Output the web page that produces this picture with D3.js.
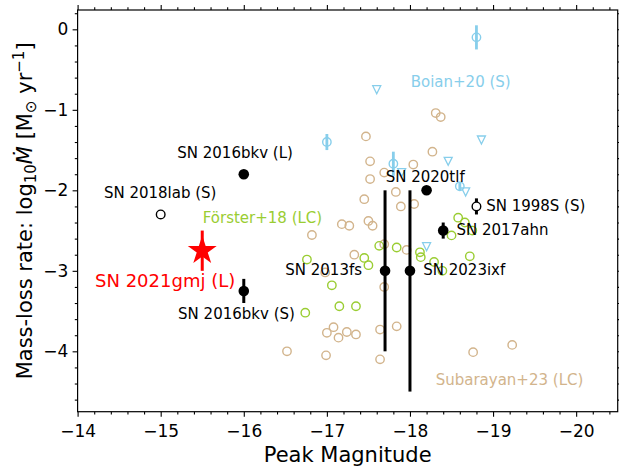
<!DOCTYPE html>
<html>
<head>
<meta charset="utf-8">
<script src="https://cdn.jsdelivr.net/npm/d3@7"></script>
<style>
  body { margin: 0; background: #fff; }
  svg { display: block; }
  text { font-family: "DejaVu Sans", sans-serif; }
</style>
</head>
<body>
<svg id="chart" width="619" height="470"></svg>
<script>
// ---- Subarayan+23 (light-curve modelling) ----
const subarayanMag  = [-18.31, -18.37, -17.47, -18.27, -17.52, -18.04, -17.69, -17.52, -17.83, -17.45,
                       -17.89, -18.05, -17.18, -17.27, -17.50, -17.55, -16.82, -17.33, -16.98, -17.69,
                       -17.69, -17.96, -17.00, -17.08, -17.14, -17.24, -17.35, -17.64, -17.84, -16.99,
                       -17.64, -16.52, -18.76, -19.23];
const subarayanMdot = [-1.04, -1.09, -1.33, -1.52, -1.64, -1.68, -1.78, -1.86, -2.02, -2.11,
                       -2.20, -2.17, -2.42, -2.44, -2.38, -2.44, -2.555, -2.80, -3.02, -2.67,
                       -3.20, -2.74, -3.77, -3.70, -3.83, -3.76, -3.79, -3.73, -3.69, -4.05,
                       -4.10, -4.00, -4.01, -3.92];

// ---- Förster+18 (light-curve modelling) ----
const foersterMag  = [-16.76, -16.74, -17.06, -17.15, -17.35, -17.45, -17.50, -17.63, -17.84, -18.12,
                      -18.13, -18.29, -18.39, -18.50, -18.58, -18.66, -18.75, -18.72];
const foersterMdot = [-2.86, -3.52, -3.18, -3.44, -3.44, -2.84, -2.93, -2.69, -2.71, -2.77,
                      -2.83, -2.89, -3.00, -2.56, -2.34, -2.40, -2.50, -2.82];

// ---- Boian+20 (spectra): measurements and upper limits ----
const boianMag  = [-18.8, -17.0, -17.8, -18.6];
const boianMdot = [-0.10, -1.40, -1.67, -1.95];
const boianErr  = [0.15, 0.10, 0.15, 0.05];
const boianLimMag  = [-17.6, -18.86, -18.46, -17.9, -18.67, -18.2];
const boianLimMdot = [-0.75, -1.375, -1.64, -1.78, -2.02, -2.70];

// ---- Individual supernovae ----
const snNames   = ["SN 2016bkv (L)", "SN 2018lab (S)", "SN 2016bkv (S)", "SN 2013fs",
                   "SN 2023ixf", "SN 2020tlf", "SN 1998S (S)", "SN 2017ahn"];
const snMag     = [-16.0, -15.0, -16.0, -17.7, -18.0, -18.2, -18.8, -18.4];
const snMdot    = [-1.80, -2.30, -3.25, -3.00, -3.00, -2.00, -2.20, -2.50];
const snErrLow  = [0, 0, 0.15, 1.0, 1.5, 0, 0.1, 0.1];
const snErrHigh = [0, 0, 0.15, 1.0, 1.0, 0, 0.1, 0.1];
const snFilled  = [true, false, true, true, true, true, false, true];

// ---- SN 2021gmj ----
const gmjName = "SN 2021gmj (L)";
const gmjMag = -15.5, gmjMdot = -2.75, gmjErr = 0.25;

// ---- axis ticks ----
const xMajor = [-14, -15, -16, -17, -18, -19, -20];
const yMajor = [0, -1, -2, -3, -4];

// ---------------------------------------------------------------
const svg = d3.select("#chart");
const pLeft = 77.6, pRight = 617.7, pTop = 10, pBottom = 411.7;

const x = d3.scaleLinear().domain([-14, -20.5]).range([pLeft, pRight]);
const y = d3.scaleLinear().domain([-4.75, 0.24]).range([pBottom, pTop]);

const xMinor = d3.range(-14, -20.5 - 1e-9, -0.2).map(v => +v.toFixed(1)).filter(v => !xMajor.includes(v));
const yMinor = d3.range(0.2, -4.75, -0.2).map(v => +v.toFixed(1)).filter(v => !yMajor.includes(v));

const fmt = d3.format("d");

// axes: major and minor ticks on all four sides, pointing outward
function drawAxis(axisFn, scale, major, minor, transform, labels) {
  const gMinor = svg.append("g").attr("transform", transform)
    .call(axisFn(scale).tickValues(minor).tickSize(2.8).tickFormat(""));
  const gMajor = svg.append("g").attr("transform", transform)
    .call(axisFn(scale).tickValues(major).tickSize(5)
      .tickPadding(axisFn === d3.axisBottom ? 8 : 4.4)
      .tickFormat(labels ? fmt : ""));
  [gMinor, gMajor].forEach(g => {
    g.select(".domain").remove();
    g.selectAll(".tick line").attr("stroke", "#000").attr("stroke-width", 1.1);
    g.selectAll(".tick text").attr("fill", "#000").style("font-size", "17px")
      .style("font-family", "'DejaVu Sans', sans-serif");
  });
}
drawAxis(d3.axisBottom, x, xMajor, xMinor, `translate(0,${pBottom})`, true);
drawAxis(d3.axisTop, x, xMajor, xMinor, `translate(0,${pTop})`, false);
drawAxis(d3.axisLeft, y, yMajor, yMinor, `translate(${pLeft},0)`, true);
drawAxis(d3.axisRight, y, yMajor, yMinor, `translate(${pRight},0)`, false);

const plot = svg.append("g");

// Subarayan+23
plot.append("g").selectAll("circle")
  .data(subarayanMag.map((m, i) => [m, subarayanMdot[i]]))
  .join("circle")
  .attr("cx", d => x(d[0])).attr("cy", d => y(d[1])).attr("r", 4.2)
  .attr("fill", "none").attr("stroke", "#D2B48C").attr("stroke-width", 1.4);

// Förster+18
plot.append("g").selectAll("circle")
  .data(foersterMag.map((m, i) => [m, foersterMdot[i]]))
  .join("circle")
  .attr("cx", d => x(d[0])).attr("cy", d => y(d[1])).attr("r", 4.2)
  .attr("fill", "none").attr("stroke", "#9ACD32").attr("stroke-width", 1.4);

// Boian+20 measurements with error bars
const boianData = boianMag.map((m, i) => ({ m, v: boianMdot[i], e: boianErr[i] }));
plot.append("g").selectAll("line").data(boianData).join("line")
  .attr("x1", d => x(d.m)).attr("x2", d => x(d.m))
  .attr("y1", d => y(d.v - d.e)).attr("y2", d => y(d.v + d.e))
  .attr("stroke", "#87CEEB").attr("stroke-width", 2.8);
plot.append("g").selectAll("circle").data(boianData).join("circle")
  .attr("cx", d => x(d.m)).attr("cy", d => y(d.v)).attr("r", 4.2)
  .attr("fill", "none").attr("stroke", "#87CEEB").attr("stroke-width", 1.4);

// Boian+20 upper limits (downward triangles)
const tri = "M-4,-4L4,-4L0,4Z";
plot.append("g").selectAll("path")
  .data(boianLimMag.map((m, i) => [m, boianLimMdot[i]]))
  .join("path")
  .attr("d", tri)
  .attr("transform", d => `translate(${x(d[0])},${y(d[1])})`)
  .attr("fill", "none").attr("stroke", "#87CEEB").attr("stroke-width", 1.3);

// individual supernovae
const snData = snNames.map((n, i) => ({
  name: n, m: snMag[i], v: snMdot[i], lo: snErrLow[i], hi: snErrHigh[i], filled: snFilled[i]
}));
plot.append("g").selectAll("line").data(snData.filter(d => d.lo > 0 || d.hi > 0)).join("line")
  .attr("x1", d => x(d.m)).attr("x2", d => x(d.m))
  .attr("y1", d => y(d.v - d.lo)).attr("y2", d => y(d.v + d.hi))
  .attr("stroke", "#000").attr("stroke-width", 3);
plot.append("g").selectAll("circle").data(snData).join("circle")
  .attr("cx", d => x(d.m)).attr("cy", d => y(d.v))
  .attr("r", d => d.filled ? 5.3 : 4.3)
  .attr("fill", d => d.filled ? "#000" : "#fff")
  .attr("stroke", "#000").attr("stroke-width", d => d.filled ? 0 : 1.4);

// SN 2021gmj: red star with error bar
function starPath(R) {
  const pts = d3.range(10).map(i => {
    const a = -Math.PI / 2 + i * Math.PI / 5;
    const r = i % 2 ? R * 0.381966 : R;
    return [r * Math.cos(a), r * Math.sin(a)];
  });
  return "M" + pts.map(p => p.join(",")).join("L") + "Z";
}
plot.append("path")
  .attr("d", starPath(15.2))
  .attr("transform", `translate(${x(gmjMag)},${y(gmjMdot)})`)
  .attr("fill", "red");
plot.append("line")
  .attr("x1", x(gmjMag)).attr("x2", x(gmjMag))
  .attr("y1", y(gmjMdot - gmjErr)).attr("y2", y(gmjMdot + gmjErr))
  .attr("stroke", "red").attr("stroke-width", 3);

// labels for the individual supernovae (pixel offsets from each point)
const labelPlacement = {
  "SN 2016bkv (L)": { anchor: "middle", dx: -8.7, dy: -16 },
  "SN 2018lab (S)": { anchor: "middle", dx: -0.5, dy: -16 },
  "SN 2016bkv (S)": { anchor: "middle", dx: -7.3, dy: 27.7 },
  "SN 2013fs":      { anchor: "end",    dx: -23,  dy: 4 },
  "SN 2023ixf":     { anchor: "start",  dx: 13.3, dy: 4 },
  "SN 2020tlf":     { anchor: "middle", dx: -1.4, dy: -8 },
  "SN 1998S (S)":   { anchor: "start",  dx: 9.7,  dy: 5 },
  "SN 2017ahn":     { anchor: "start",  dx: 13.3, dy: 4.7 }
};
svg.append("g").selectAll("text").data(snData).join("text")
  .attr("x", d => x(d.m) + labelPlacement[d.name].dx)
  .attr("y", d => y(d.v) + labelPlacement[d.name].dy)
  .attr("text-anchor", d => labelPlacement[d.name].anchor)
  .style("font-size", "15px").attr("fill", "#000")
  .text(d => d.name);

svg.append("text")
  .attr("x", x(gmjMag) + 33).attr("y", y(gmjMdot) + 36.5)
  .attr("text-anchor", "end").attr("fill", "red").style("font-size", "18px")
  .text(gmjName);

// sample labels
const sampleLabels = [
  { text: "Förster+18 (LC)", color: "#9ACD32", px: 202.7, py: 223 },
  { text: "Boian+20 (S)", color: "#87CEEB", px: 410.7, py: 87 },
  { text: "Subarayan+23 (LC)", color: "#D2B48C", px: 435.7, py: 385 }
];
svg.append("g").selectAll("text").data(sampleLabels).join("text")
  .attr("x", d => d.px).attr("y", d => d.py)
  .attr("fill", d => d.color).style("font-size", "15px")
  .text(d => d.text);

// frame
svg.append("rect")
  .attr("x", pLeft).attr("y", pTop).attr("width", pRight - pLeft).attr("height", pBottom - pTop)
  .attr("fill", "none").attr("stroke", "#000").attr("stroke-width", 1.2);

// axis titles
svg.append("text")
  .attr("x", (pLeft + pRight) / 2).attr("y", 462)
  .attr("text-anchor", "middle").style("font-size", "21px").attr("fill", "#000")
  .text("Peak Magnitude");

const yl = svg.append("text")
  .attr("transform", `translate(31.5,${(pTop + pBottom) / 2}) rotate(-90)`)
  .attr("text-anchor", "middle").style("font-size", "21px").attr("fill", "#000");
yl.append("tspan").text("Mass-loss rate: log");
yl.append("tspan").attr("dy", 4.5).style("font-size", "15px").text("10");
yl.append("tspan").attr("dy", -4.5).style("font-style", "italic").text("\u1E40");
yl.append("tspan").text(" [M");
yl.append("tspan").attr("dy", 4.5).style("font-size", "15px").text("\u2299");
yl.append("tspan").attr("dy", -4.5).text(" yr");
yl.append("tspan").attr("dy", -8).style("font-size", "15px").text("\u22121");
yl.append("tspan").attr("dy", 8).text("]");
</script>
</body>
</html>
